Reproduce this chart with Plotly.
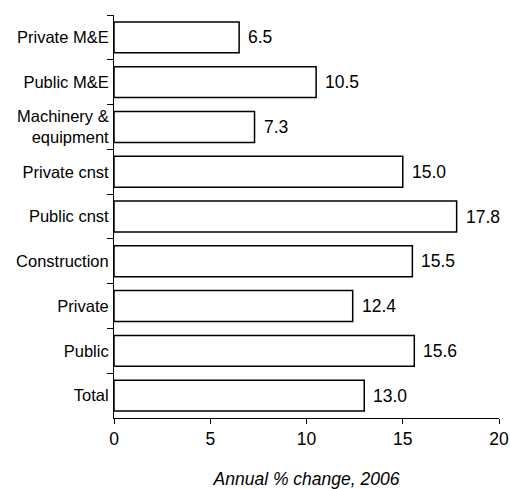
import plotly.graph_objects as go

categories = ["Private M&E", "Public M&E", "Machinery &<br>equipment", "Private cnst",
              "Public cnst", "Construction", "Private", "Public", "Total"]
values = [6.5, 10.5, 7.3, 15.0, 17.8, 15.5, 12.4, 15.6, 13.0]
x_ticks = [0, 5, 10, 15, 20]
x_title = "Annual % change, 2006"

FONT = "Arial, 'Liberation Sans', sans-serif"

fig = go.Figure()
fig.add_trace(go.Bar(
    x=values, y=categories, orientation="h",
    marker=dict(color="white", line=dict(color="black", width=1.5)),
    showlegend=False, hoverinfo="skip",
))

for v, c in zip(values, categories):
    fig.add_annotation(x=v, y=c, text=f"{v:.1f}", showarrow=False,
                       xanchor="left", yanchor="middle", xshift=7,
                       font=dict(family=FONT, size=17.5, color="black"))

fig.update_layout(
    width=510, height=489,
    margin=dict(l=114, r=11, t=15, b=71),
    paper_bgcolor="white", plot_bgcolor="white",
    bargap=0.31,
    font=dict(family=FONT, size=17, color="black"),
    xaxis=dict(range=[0, 20], tickvals=x_ticks, ticks="outside", ticklen=5,
               tickwidth=1, tickcolor="black", showline=True, linecolor="black",
               linewidth=1, showgrid=False, zeroline=False, automargin=False,
               tickfont=dict(size=17.5),
               title=dict(text=x_title, standoff=27,
                          font=dict(size=17.5, style="italic"))),
    yaxis=dict(autorange="reversed", ticks="outside", ticklen=6, tickwidth=1,
               tickcolor="black", tickson="boundaries", showline=True,
               linecolor="black", linewidth=1, showgrid=False, zeroline=False,
               automargin=False, tickfont=dict(size=16.5), ticklabelstandoff=1),
)

fig.write_html("out.html")
